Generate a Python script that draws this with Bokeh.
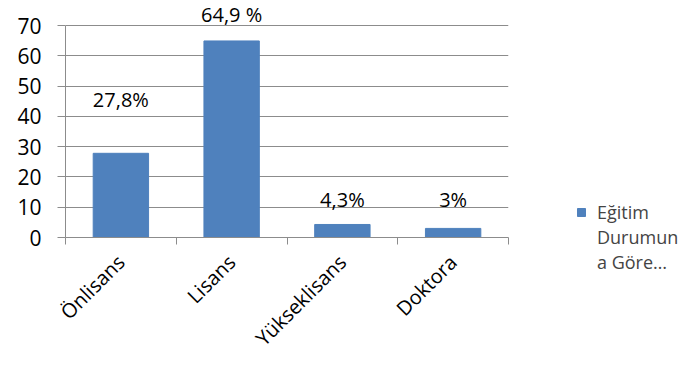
from math import pi
from bokeh.plotting import figure
from bokeh.models import FixedTicker, Legend, LegendItem, ColumnDataSource, Range1d, Label
from bokeh.embed import file_html
from bokeh.resources import INLINE

categories = ["Önlisans", "Lisans", "Yükseklisans", "Doktora"]
values = [27.8, 64.9, 4.3, 3.0]
value_labels = ["27,8%", "64,9 %", "4,3%", "3%"]
series_name = ["Eğitim", "Durumun", "a Göre…"]
y_ticks = [0, 10, 20, 30, 40, 50, 60, 70]

FONT = "Open Sans"
xs = [i + 0.5 for i in range(len(categories))]
label_offsets = [40, 13, 11, 15]

y_max = y_ticks[-1]
# frame extends 25px above the 70 line (212px for 0..70) so the top label is not clipped
y_top = y_max + 25 / 212 * y_max

src = ColumnDataSource(dict(x=xs, top=values))

p = figure(width=700, height=370, frame_width=443, frame_height=237,
           x_range=Range1d(0, len(categories)), y_range=Range1d(0, y_top),
           output_backend="svg", toolbar_location=None,
           min_border_left=65, min_border_top=0, min_border_right=192, min_border_bottom=133)
p.outline_line_color = None
p.background_fill_color = "white"

r = p.vbar(x="x", top="top", width=0.5, source=src, fill_color="#4F81BD", line_color="#4F81BD")
blank = p.vbar(x="x", top="top", width=0.5, source=src, fill_alpha=0, line_alpha=0)
for x, v, lab, off in zip(xs, values, value_labels, label_offsets):
    p.add_layout(Label(x=x, y=v, text=lab, y_offset=off, text_align="center",
                       text_baseline="bottom", text_font=FONT, text_font_size="20px",
                       text_color="black"))

p.xgrid.visible = False
p.ygrid.grid_line_color = "#8c8c8c"
p.ygrid.ticker = FixedTicker(ticks=y_ticks)

p.yaxis.ticker = FixedTicker(ticks=y_ticks)
p.yaxis.bounds = (0, y_max)
p.yaxis.axis_line_color = "#8c8c8c"
p.yaxis.major_tick_line_color = "#8c8c8c"
p.yaxis.major_tick_out = 8
p.yaxis.major_tick_in = 0
p.yaxis.minor_tick_line_color = None
p.yaxis.major_label_text_font = FONT
p.yaxis.major_label_text_font_size = "21px"
p.yaxis.major_label_text_color = "black"
p.yaxis.major_label_standoff = 16

p.xaxis.ticker = FixedTicker(ticks=xs, minor_ticks=list(range(len(categories) + 1)))
p.xaxis.major_label_overrides = {x: c for x, c in zip(xs, categories)}
p.xaxis.axis_line_color = "#8c8c8c"
p.xaxis.major_tick_line_color = None
p.xaxis.minor_tick_line_color = "#8c8c8c"
p.xaxis.minor_tick_out = 7
p.xaxis.minor_tick_in = 0
p.xaxis.major_label_orientation = pi / 4
p.xaxis.major_label_text_font = FONT
p.xaxis.major_label_text_font_size = "20px"
p.xaxis.major_label_text_color = "black"
p.xaxis.major_label_standoff = 14

items = [LegendItem(label=series_name[0], renderers=[r])] + \
        [LegendItem(label=s, renderers=[blank]) for s in series_name[1:]]
legend = Legend(items=items,
                label_text_font=FONT, label_text_font_size="18px",
                border_line_color=None, glyph_width=10, glyph_height=10,
                label_height=25, spacing=0,
                label_standoff=11, margin=0, padding=0, background_fill_alpha=0)
p.add_layout(legend, "right")
legend.location = (68, -37)

open("out.html", "w").write(file_html(p, INLINE))
